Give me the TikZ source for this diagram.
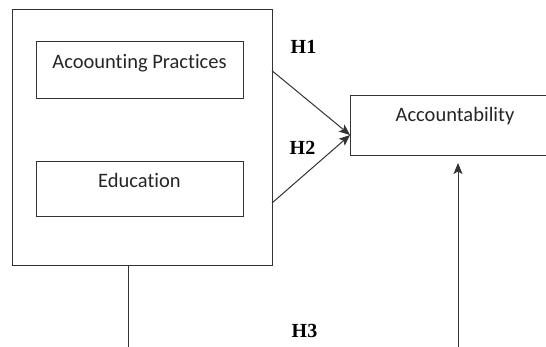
\documentclass[tikz,border=0pt]{standalone}
\usepackage{fontspec}
\setmainfont{Liberation Serif}
\newfontfamily\boxfont[Ligatures=NoCommon]{Carlito}
\usetikzlibrary{arrows.meta}

\begin{document}
\begin{tikzpicture}[x=1pt,y=-1pt,
  box/.style={draw=black!80, line width=1pt, inner sep=0pt, outer sep=0pt,
    minimum width=207pt, text height=26.2pt, text depth=30.8pt,
    font=\boxfont\fontsize{20.5}{24}\selectfont, text=black!85, anchor=north west},
  hyp/.style={font=\bfseries\fontsize{20}{24}\selectfont},
  link/.style={draw=black!80, line width=1pt},
  tip/.style={-{Stealth[length=11pt,width=9pt,inset=2.5pt]}}]
  \def\W{546}
  \def\H{347}

  \clip (0,0) rectangle (\W,\H);
  \fill[white] (0,0) rectangle (\W,\H);

  % outer frame round the two predictors
  \node[draw=black!80, line width=1pt, inner sep=0pt, outer sep=0pt,
    minimum width=260pt, minimum height=256pt, anchor=north west] (frame) at (12,10) {};

  \node[box] (practices) at (36,42) {Acoounting Practices};
  \node[box, text depth=28.8pt] (education) at (36,161.7) {Education};
  \node[box, minimum width=210pt, text depth=33.8pt] (acc) at (350,95.7) {Accountability};

  % hypotheses
  \node[hyp] (h1) at (303.5,46.7) {H1};
  \node[hyp] (h2) at (302.5,147.5) {H2};
  \node[hyp] (h3) at (304.5,330.5) {H3};

  \draw[link,tip] ([yshift=-60.7pt]frame.north east) -- ([yshift=20.7pt]acc.south west);
  \draw[link,tip] ([yshift=63pt]frame.south east) -- ([yshift=20.7pt]acc.south west);

  \coordinate (down) at (128,\H+5);
  \coordinate (up) at (458,\H+5);
  \draw[link] (down |- frame.south) -- (down);
  \draw[link,tip,shorten >=7.3pt] (up) -- (up |- acc.south);

\end{tikzpicture}
\end{document}
